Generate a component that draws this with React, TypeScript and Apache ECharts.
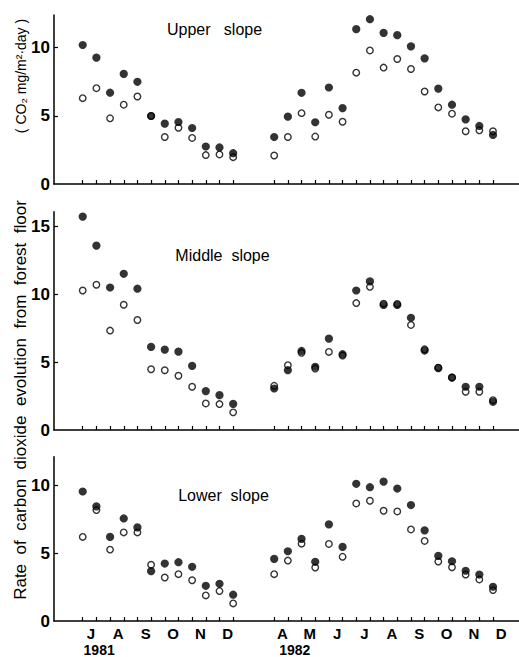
import React, { useEffect, useRef } from "react";
import * as echarts from "echarts";

// Sampling positions (half-month steps); 1981 and 1982 separated by a gap on the axis
const sampleIndex1981 = [0, 1, 2, 3, 4, 5, 6, 7, 8, 9, 10, 11];
const sampleIndex1982 = [14, 15, 16, 17, 18, 19, 20, 21, 22, 23, 24, 25, 26, 27, 28, 29, 30];

// Month tick labels
const monthPos1981 = [0.6, 2.6, 4.6, 6.6, 8.6, 10.6];
const monthLabels1981 = ["J", "A", "S", "O", "N", "D"];
const monthPos1982 = [14.6, 16.6, 18.6, 20.6, 22.6, 24.6, 26.6, 28.6, 30.6];
const monthLabels1982 = ["A", "M", "J", "J", "A", "S", "O", "N", "D"];
const yearPos = [1.2, 15.5];
const yearLabels = ["1981", "1982"];

// Upper slope
const upperFilled1981 = [10.2, 9.27, 6.7, 8.08, 7.5, 4.99, 4.43, 4.55, 4.11, 2.75, 2.68, 2.26];
const upperOpen1981 = [6.3, 7.03, 4.82, 5.82, 6.42, 4.99, 3.45, 4.13, 3.38, 2.12, 2.17, 1.97];
const upperFilled1982 = [3.45, 4.94, 6.69, 4.53, 7.08, 5.57, 11.36, 12.09, 11.09, 10.92, 10.1, 9.22, 7.0, 5.82, 4.74, 4.26, 3.6];
const upperOpen1982 = [2.09, 3.45, 5.2, 3.48, 5.08, 4.57, 8.17, 9.8, 8.54, 9.17, 8.44, 6.79, 5.62, 5.16, 3.87, 3.94, 3.87];

// Middle slope
const middleFilled1981 = [15.74, 13.6, 10.51, 11.52, 10.42, 6.13, 5.93, 5.78, 4.73, 2.87, 2.57, 1.93];
const middleOpen1981 = [10.29, 10.71, 7.33, 9.24, 8.11, 4.48, 4.41, 4.0, 3.19, 1.96, 1.91, 1.3];
const middleFilled1982 = [3.06, 4.41, 5.83, 4.66, 6.74, 5.59, 10.29, 10.96, 9.22, 9.22, 8.28, 5.86, 4.56, 3.87, 3.19, 3.19, 2.08];
const middleOpen1982 = [3.26, 4.78, 5.69, 4.53, 5.76, 5.49, 9.36, 10.56, 9.32, 9.3, 7.75, 5.95, 4.6, 3.87, 2.82, 2.82, 2.2];

// Lower slope
const lowerFilled1981 = [9.56, 8.46, 6.21, 7.57, 6.91, 3.68, 4.24, 4.34, 4.0, 2.6, 2.75, 1.94];
const lowerOpen1981 = [6.21, 8.19, 5.27, 6.54, 6.54, 4.15, 3.21, 3.46, 3.01, 1.89, 2.21, 1.3];
const lowerFilled1982 = [4.59, 5.15, 6.06, 4.37, 7.13, 5.47, 10.13, 9.88, 10.29, 9.78, 8.56, 6.69, 4.81, 4.41, 3.71, 3.43, 2.53];
const lowerOpen1982 = [3.46, 4.46, 5.71, 3.95, 5.69, 4.74, 8.68, 8.88, 8.14, 8.09, 6.76, 5.91, 4.39, 3.97, 3.43, 3.07, 2.28];

const yTickLabels = [0, 5, 10, 15];

const X_MIN = -2.1;
const X_MAX = 31.9;
const FONT = "Liberation Sans, Arial, Helvetica, sans-serif";

function pairs(a: number[], b: number[], va: number[], vb: number[]) {
  return [...a.map((x, i) => [x, va[i]]), ...b.map((x, i) => [x, vb[i]])];
}

export default function App() {
  const ref = useRef<HTMLDivElement>(null);
  useEffect(() => {
    if (!ref.current) return;
    const chart = echarts.init(ref.current, null, { renderer: "svg" });
    const allIdx = [...sampleIndex1981, ...sampleIndex1982];
    const monthMap = new Map<string, string>();
    monthPos1981.forEach((p, i) => monthMap.set(p.toFixed(1), monthLabels1981[i]));
    monthPos1982.forEach((p, i) => monthMap.set(p.toFixed(1), monthLabels1982[i]));
    const yearMap = new Map<string, string>();
    yearPos.forEach((p, i) => yearMap.set(p.toFixed(1), yearLabels[i]));

    const axisLineStyle = { color: "#000", width: 1.5 };
    const grids = [
      { left: 54, right: 0, top: 15, height: 169 },
      { left: 54, right: 0, top: 211.7, height: 218.3 },
      { left: 54, right: 0, top: 456.7, height: 165 },
    ];
    const yMax = [12.4, 16.1, 12.13];

    const xAxis: any[] = grids.map((_, gi) => ({
      type: "value",
      gridIndex: gi,
      min: X_MIN,
      max: X_MAX,
      axisLine: { show: true, onZero: false, lineStyle: axisLineStyle },
      axisTick: { show: true, inside: true, length: 4, customValues: allIdx, lineStyle: { color: "#000", width: 1.2 } },
      axisLabel:
        gi === 2
          ? {
              show: true,
              customValues: [...monthPos1981, ...monthPos1982],
              formatter: (v: number) => monthMap.get(Number(v).toFixed(1)) ?? "",
              color: "#000",
              fontSize: 15,
              fontWeight: "bold",
              fontFamily: FONT,
              margin: 5,
            }
          : { show: false },
      splitLine: { show: false },
    }));
    xAxis.push({
      type: "value",
      gridIndex: 2,
      min: X_MIN,
      max: X_MAX,
      position: "bottom",
      offset: 18,
      axisLine: { show: false },
      axisTick: { show: false },
      axisLabel: {
        show: true,
        customValues: yearPos,
        formatter: (v: number) => yearMap.get(Number(v).toFixed(1)) ?? "",
        color: "#000",
        fontSize: 14,
        fontWeight: "bold",
        fontFamily: FONT,
        margin: 4,
      },
      splitLine: { show: false },
    });

    const yAxis = grids.map((_, gi) => {
      const labels = yTickLabels.filter((v) => v <= yMax[gi]);
      return {
        type: "value",
        gridIndex: gi,
        min: 0,
        max: yMax[gi],
        axisLine: { show: true, onZero: false, lineStyle: axisLineStyle },
        axisTick: { show: true, inside: true, length: 4, customValues: labels.filter((v) => v > 0), lineStyle: { color: "#000", width: 1.2 } },
        axisLabel: { show: true, customValues: labels, color: "#000", fontSize: 17, fontWeight: "bold", fontFamily: FONT, margin: 4 },
        splitLine: { show: false },
      };
    });

    const openStyle = { color: "#fff", borderColor: "#000", borderWidth: 1.4 };
    const filledStyle = { color: "#000" };
    const panels = [
      [upperOpen1981, upperOpen1982, upperFilled1981, upperFilled1982],
      [middleOpen1981, middleOpen1982, middleFilled1981, middleFilled1982],
      [lowerOpen1981, lowerOpen1982, lowerFilled1981, lowerFilled1982],
    ];
    const series: any[] = [];
    panels.forEach((p, gi) => {
      series.push({
        type: "scatter",
        xAxisIndex: gi,
        yAxisIndex: gi,
        symbol: "circle",
        symbolSize: 6.5,
        itemStyle: openStyle,
        data: pairs(sampleIndex1981, sampleIndex1982, p[0], p[1]),
      });
      series.push({
        type: "scatter",
        xAxisIndex: gi,
        yAxisIndex: gi,
        symbol: "circle",
        symbolSize: 8.2,
        itemStyle: filledStyle,
        data: pairs(sampleIndex1981, sampleIndex1982, p[2], p[3]),
      });
    });

    const titleStyle = (text: string) => ({ text, fill: "#000", font: `16px ${FONT}`, textAlign: "center", textVerticalAlign: "middle" });

    chart.setOption({
      animation: false,
      textStyle: { fontFamily: FONT },
      grid: grids,
      xAxis,
      yAxis,
      series,
      graphic: [
        { type: "text", x: 214.5, y: 29, style: titleStyle("Upper   slope") },
        { type: "text", x: 222.5, y: 255, style: titleStyle("Middle  slope") },
        { type: "text", x: 223.5, y: 495, style: titleStyle("Lower  slope") },
        {
          type: "text",
          x: 20,
          y: 400,
          rotation: Math.PI / 2,
          style: { text: "Rate  of  carbon  dioxide  evolution  from  forest  floor", fill: "#000", font: `17px ${FONT}`, textAlign: "center", textVerticalAlign: "middle" },
        },
        {
          type: "text",
          x: 21,
          y: 76,
          rotation: Math.PI / 2,
          style: { text: "( CO₂ mg/m²·day )", fill: "#000", font: `14px ${FONT}`, textAlign: "center", textVerticalAlign: "middle" },
        },
      ],
    });
    return () => chart.dispose();
  }, []);
  return <div ref={ref} style={{ position: "absolute", left: 0, top: 0, width: 519, height: 657 }} />;
}
